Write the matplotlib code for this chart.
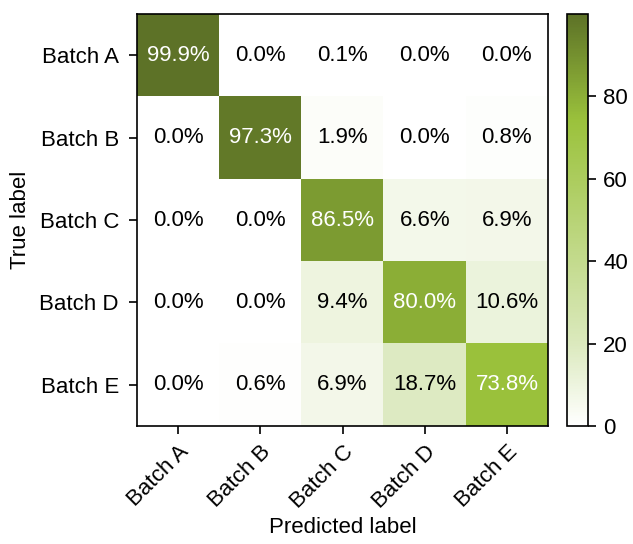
import numpy as np
import matplotlib.pyplot as plt
from matplotlib.colors import LinearSegmentedColormap

plt.rcParams['font.family'] = ['Liberation Sans', 'DejaVu Sans']

labels = ['Batch A', 'Batch B', 'Batch C', 'Batch D', 'Batch E']
cm = np.array([
    [99.9, 0.0, 0.1, 0.0, 0.0],
    [0.0, 97.3, 1.9, 0.0, 0.8],
    [0.0, 0.0, 86.5, 6.6, 6.9],
    [0.0, 0.0, 9.4, 80.0, 10.6],
    [0.0, 0.6, 6.9, 18.7, 73.8],
])

cmap = LinearSegmentedColormap.from_list(
    'olive', [(0.0, '#ffffff'), (0.2, '#dbe9bd'), (0.74, '#9bc23c'), (1.0, '#5d7227')])

fig = plt.figure(figsize=(6.33, 5.44), dpi=100)
ax = fig.add_axes([137 / 633, 1 - 426 / 544, 411 / 633, 412 / 544])
cax = fig.add_axes([567 / 633, 1 - 426 / 544, 21 / 633, 412 / 544])

im = ax.imshow(cm, cmap=cmap, vmin=0, vmax=cm.max(), aspect='auto')
cb = fig.colorbar(im, cax=cax)
cb.set_ticks([0, 20, 40, 60, 80])
cb.ax.tick_params(labelsize=16, length=6, width=1.2, pad=5)
cb.outline.set_linewidth(1.2)

thresh = cm.max() / 2
for i in range(cm.shape[0]):
    for j in range(cm.shape[1]):
        ax.text(j, i, f'{cm[i, j]:.1f}%', ha='center', va='center', fontsize=16,
                color='white' if cm[i, j] > thresh else 'black')

ax.set_xticks(range(len(labels)))
ax.set_yticks(range(len(labels)))
ax.set_xticklabels(labels, rotation=45, ha='right', rotation_mode='anchor')
ax.set_yticklabels(labels)
ax.tick_params(axis='y', labelsize=16, length=6, width=1.2, pad=7)
ax.tick_params(axis='x', labelsize=16, length=6, width=1.2, pad=5)
for s in ax.spines.values():
    s.set_linewidth(1.2)
ax.set_xlabel('Predicted label', fontsize=16, labelpad=3)
ax.set_ylabel('True label', fontsize=16, labelpad=6)

fig.savefig('out.png', dpi=100)
